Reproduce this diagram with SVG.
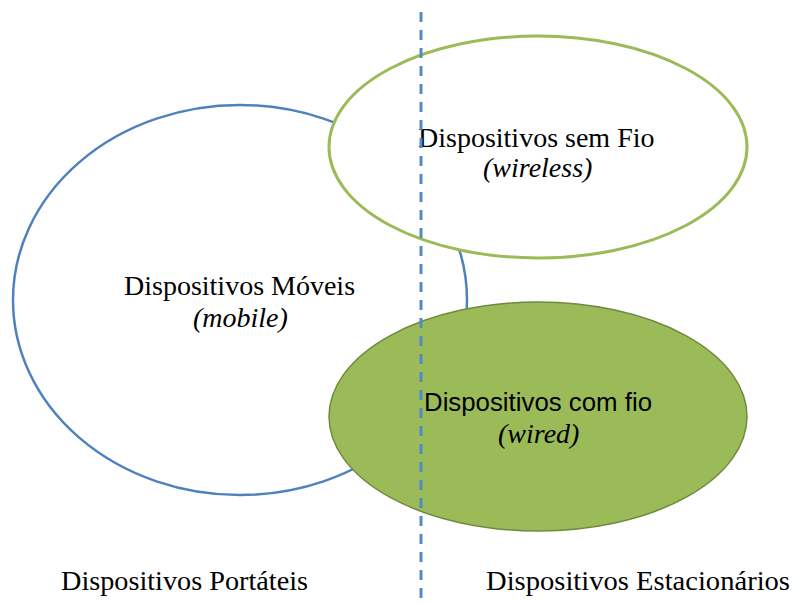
<svg xmlns="http://www.w3.org/2000/svg" width="795" height="603" viewBox="0 0 795 603">
<style>
.serif{font-family:"Liberation Serif","Times New Roman",serif;font-size:28px;fill:#000}
.it{font-style:italic}
.sans{font-family:"Liberation Sans",Arial,sans-serif;font-size:25.5px;fill:#000}
</style>
<rect width="795" height="603" fill="#fff"/>
<g id="moveis">
<ellipse cx="240" cy="300" rx="227" ry="195" fill="#fff" stroke="#4f81bd" stroke-width="2.5"/>
<text class="serif" x="124" y="295">Dispositivos Móveis</text>
<text class="serif it" x="193" y="327">(mobile)</text>
</g>
<g id="semfio">
<ellipse cx="538" cy="147" rx="209" ry="111" fill="#fff" stroke="#9bbb59" stroke-width="3"/>
<text class="serif" x="418" y="147">Dispositivos sem Fio</text>
<text class="serif it" x="483" y="177">(wireless)</text>
</g>
<g id="comfio">
<ellipse cx="538" cy="416.5" rx="209" ry="114.5" fill="#9bbb59" stroke="#71893f" stroke-width="1.5"/>
<text class="sans" x="424" y="411" textLength="228" lengthAdjust="spacingAndGlyphs">Dispositivos com fio</text>
<text class="serif it" x="498" y="443">(wired)</text>
</g>
<g id="connectors">
<line x1="421" y1="12" x2="421" y2="603" stroke="#5589c4" stroke-width="3" stroke-dasharray="10 8"/>
</g>
<g id="labels">
<text class="serif" x="61" y="590" textLength="247" lengthAdjust="spacingAndGlyphs">Dispositivos Portáteis</text>
<text class="serif" x="486" y="590" textLength="304" lengthAdjust="spacingAndGlyphs">Dispositivos Estacionários</text>
</g>
</svg>
